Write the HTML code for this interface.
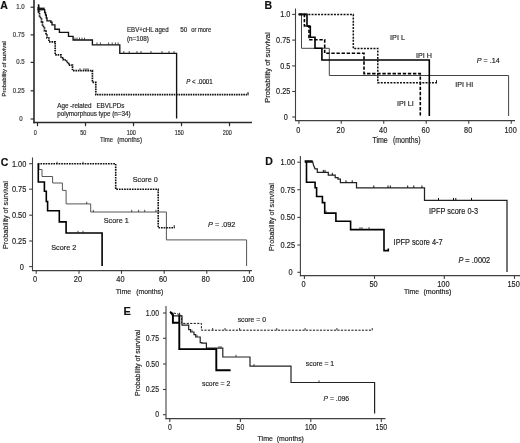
<!DOCTYPE html>
<html><head><meta charset="utf-8"><style>
html,body{margin:0;padding:0;background:#fff;}
svg{display:block;will-change:transform;font-family:"Liberation Sans", sans-serif;}
</style></head><body>
<svg width="520" height="443" viewBox="0 0 520 443">
<rect width="520" height="443" fill="#fff"/>
<text transform="translate(0.3,8.7)" font-size="10.5" text-anchor="start" fill="#111" font-weight="bold" stroke="#111" stroke-width="0.18">A</text>
<line x1="34" y1="0" x2="34" y2="123.2" stroke="#2a2a2a" stroke-width="1.6" />
<line x1="33.2" y1="122.5" x2="252" y2="122.5" stroke="#2a2a2a" stroke-width="1.5" />
<line x1="30.6" y1="7.2" x2="34" y2="7.2" stroke="#2a2a2a" stroke-width="1.2" />
<text transform="translate(24.6,9.2) scale(0.82,1)" font-size="7.4" text-anchor="end" fill="#333" font-weight="normal" stroke="#333" stroke-width="0.18">1.0</text>
<line x1="30.6" y1="34.9" x2="34" y2="34.9" stroke="#2a2a2a" stroke-width="1.2" />
<text transform="translate(24.6,36.9) scale(0.82,1)" font-size="7.4" text-anchor="end" fill="#333" font-weight="normal" stroke="#333" stroke-width="0.18">0.75</text>
<line x1="30.6" y1="62.4" x2="34" y2="62.4" stroke="#2a2a2a" stroke-width="1.2" />
<text transform="translate(24.6,64.4) scale(0.82,1)" font-size="7.4" text-anchor="end" fill="#333" font-weight="normal" stroke="#333" stroke-width="0.18">0.5</text>
<line x1="30.6" y1="90.8" x2="34" y2="90.8" stroke="#2a2a2a" stroke-width="1.2" />
<text transform="translate(24.6,92.8) scale(0.82,1)" font-size="7.4" text-anchor="end" fill="#333" font-weight="normal" stroke="#333" stroke-width="0.18">0.25</text>
<line x1="30.6" y1="119" x2="34" y2="119" stroke="#2a2a2a" stroke-width="1.2" />
<text transform="translate(22.6,121.0) scale(0.82,1)" font-size="7.4" text-anchor="end" fill="#333" font-weight="normal" stroke="#333" stroke-width="0.18">0</text>
<line x1="37.5" y1="122.5" x2="37.5" y2="126.2" stroke="#2a2a2a" stroke-width="1.2" />
<text transform="translate(35.3,134.8) scale(0.86,1)" font-size="6.3" text-anchor="middle" fill="#333" font-weight="normal" stroke="#333" stroke-width="0.18">0</text>
<line x1="85.5" y1="122.5" x2="85.5" y2="126.2" stroke="#2a2a2a" stroke-width="1.2" />
<text transform="translate(83.3,134.8) scale(0.86,1)" font-size="6.3" text-anchor="middle" fill="#333" font-weight="normal" stroke="#333" stroke-width="0.18">50</text>
<line x1="133.5" y1="122.5" x2="133.5" y2="126.2" stroke="#2a2a2a" stroke-width="1.2" />
<text transform="translate(131.3,134.8) scale(0.86,1)" font-size="6.3" text-anchor="middle" fill="#333" font-weight="normal" stroke="#333" stroke-width="0.18">100</text>
<line x1="181.5" y1="122.5" x2="181.5" y2="126.2" stroke="#2a2a2a" stroke-width="1.2" />
<text transform="translate(179.3,134.8) scale(0.86,1)" font-size="6.3" text-anchor="middle" fill="#333" font-weight="normal" stroke="#333" stroke-width="0.18">150</text>
<line x1="229.5" y1="122.5" x2="229.5" y2="126.2" stroke="#2a2a2a" stroke-width="1.2" />
<text transform="translate(227.3,134.8) scale(0.86,1)" font-size="6.3" text-anchor="middle" fill="#333" font-weight="normal" stroke="#333" stroke-width="0.18">200</text>
<text transform="translate(100,141.6) scale(0.95,1)" font-size="6.3" text-anchor="start" fill="#333" font-weight="normal" stroke="#333" stroke-width="0.18">Time</text>
<text transform="translate(117.2,141.6)" font-size="6.3" text-anchor="start" fill="#333" font-weight="normal" stroke="#333" stroke-width="0.18">(months)</text>
<text transform="translate(5.6,68.8) rotate(-90)" font-size="5.85" text-anchor="middle" fill="#333" font-weight="normal" stroke="#333" stroke-width="0.22">Probability of survival</text>
<path d="M38,7.2 L38.2,7.2 L38.2,9.6 L44.7,9.6 L44.7,12.5 L45.5,12.5 L45.5,15 L46.3,15 L46.3,18 L47,18 L47,20.9 L50.9,20.9 L50.9,22.2 L52,22.2 L52,24.8 L54.9,24.8 L54.9,29.2 L59.4,29.2 L59.4,32.4 L68.5,32.4 L68.5,36.4 L73.1,36.4 L73.1,40.0 L92.4,40.0 L92.4,44.8 L119.8,44.8 L119.8,53.4 L176.6,53.4 L176.6,118.5" fill="none" stroke="#111" stroke-width="1.35" stroke-linejoin="miter" stroke-linecap="butt" />
<rect x="38.2" y="7.6" width="6.5" height="2.6" fill="#1a1a1a"/>
<line x1="38.6" y1="4.3" x2="38.6" y2="12.5" stroke="#111" stroke-width="1.6" />
<line x1="75" y1="40.0" x2="75" y2="37.6" stroke="#222" stroke-width="0.8" />
<line x1="77" y1="40.0" x2="77" y2="37.6" stroke="#222" stroke-width="0.8" />
<line x1="79.5" y1="40.0" x2="79.5" y2="37.6" stroke="#222" stroke-width="0.8" />
<line x1="82" y1="40.0" x2="82" y2="37.6" stroke="#222" stroke-width="0.8" />
<line x1="84.5" y1="40.0" x2="84.5" y2="37.6" stroke="#222" stroke-width="0.8" />
<line x1="97" y1="44.8" x2="97" y2="42.4" stroke="#222" stroke-width="0.8" />
<line x1="100.4" y1="44.8" x2="100.4" y2="42.4" stroke="#222" stroke-width="0.8" />
<line x1="108.6" y1="44.8" x2="108.6" y2="42.4" stroke="#222" stroke-width="0.8" />
<line x1="112.2" y1="44.8" x2="112.2" y2="42.4" stroke="#222" stroke-width="0.8" />
<line x1="115.4" y1="44.8" x2="115.4" y2="42.4" stroke="#222" stroke-width="0.8" />
<line x1="118.1" y1="44.8" x2="118.1" y2="42.4" stroke="#222" stroke-width="0.8" />
<line x1="123.8" y1="53.4" x2="123.8" y2="51.0" stroke="#222" stroke-width="0.8" />
<line x1="129.2" y1="53.4" x2="129.2" y2="51.0" stroke="#222" stroke-width="0.8" />
<line x1="137" y1="53.4" x2="137" y2="51.0" stroke="#222" stroke-width="0.8" />
<line x1="141" y1="53.4" x2="141" y2="51.0" stroke="#222" stroke-width="0.8" />
<line x1="151" y1="53.4" x2="151" y2="51.0" stroke="#222" stroke-width="0.8" />
<line x1="162" y1="53.4" x2="162" y2="51.0" stroke="#222" stroke-width="0.8" />
<line x1="169" y1="53.4" x2="169" y2="51.0" stroke="#222" stroke-width="0.8" />
<line x1="174" y1="53.4" x2="174" y2="51.0" stroke="#222" stroke-width="0.8" />
<path d="M38,7.2 L38.5,7.2 L38.5,12 L39.5,12 L39.5,16 L40.5,16 L40.5,19 L41.5,19 L41.5,22 L42.5,22 L42.5,25 L43.5,25 L43.5,28 L44.5,28 L44.5,31 L46,31 L46,35 L47,35 L47,38 L48.9,38 L48.9,41.8 L55.2,41.8 L55.2,42.6 L55.2,42.6 L55.2,54.8 L61,54.8 L61,54.8 L61,54.8 L61,57.8 L63.4,57.8 L63.4,57.8 L63.4,57.8 L63.4,60 L66.6,60 L66.6,60 L66.6,60 L66.6,62.5 L68.75,62.5 L68.75,62.5 L68.75,62.5 L68.75,65.2 L72.5,65.2 L72.5,65.2 L72.5,65.2 L72.5,70.6 L92.4,70.6 L92.4,70.6 L92.4,70.6 L92.4,82.3 L95.8,82.3 L95.8,82.3 L95.8,82.3 L95.8,94.7 L248.5,94.7 L248.5,94.7" fill="none" stroke="#111" stroke-width="1.7" stroke-dasharray="1.6 0.8" stroke-linejoin="miter" stroke-linecap="butt" />
<line x1="80" y1="70.6" x2="80" y2="68.19999999999999" stroke="#222" stroke-width="0.8" />
<line x1="84" y1="70.6" x2="84" y2="68.19999999999999" stroke="#222" stroke-width="0.8" />
<line x1="86" y1="70.6" x2="86" y2="68.19999999999999" stroke="#222" stroke-width="0.8" />
<line x1="88" y1="70.6" x2="88" y2="68.19999999999999" stroke="#222" stroke-width="0.8" />
<line x1="248.0" y1="94.7" x2="248.0" y2="92.10000000000001" stroke="#111" stroke-width="1.0" />
<text transform="translate(127,31.6) scale(0.97,1)" font-size="6.3" text-anchor="start" fill="#2a2a2a" font-weight="normal" stroke="#2a2a2a" stroke-width="0.18">EBV+cHL aged</text>
<text transform="translate(180.2,31.6)" font-size="6.3" text-anchor="start" fill="#2a2a2a" font-weight="normal" stroke="#2a2a2a" stroke-width="0.18">50</text>
<text transform="translate(191.2,31.6) scale(0.92,1)" font-size="6.3" text-anchor="start" fill="#2a2a2a" font-weight="normal" stroke="#2a2a2a" stroke-width="0.18">or more</text>
<text transform="translate(127,40.6)" font-size="6.3" text-anchor="start" fill="#2a2a2a" font-weight="normal" stroke="#2a2a2a" stroke-width="0.18">(n=108)</text>
<text transform="translate(186.2,83.8) scale(0.89,1)" font-size="6.9" text-anchor="start" fill="#1a1a1a" font-weight="normal" stroke="#1a1a1a" stroke-width="0.18"><tspan font-style="italic">P</tspan> &lt; .0001</text>
<text transform="translate(57.3,107.6)" font-size="6.3" text-anchor="start" fill="#2a2a2a" font-weight="normal" stroke="#2a2a2a" stroke-width="0.18">Age -related</text>
<text transform="translate(96.4,107.6)" font-size="6.3" text-anchor="start" fill="#2a2a2a" font-weight="normal" stroke="#2a2a2a" stroke-width="0.18">EBVLPDs</text>
<text transform="translate(57.3,116.4)" font-size="6.3" text-anchor="start" fill="#2a2a2a" font-weight="normal" stroke="#2a2a2a" stroke-width="0.18">polymorphous type (n=34)</text>
<text transform="translate(264.4,9.0)" font-size="10.5" text-anchor="start" fill="#111" font-weight="bold" stroke="#111" stroke-width="0.18">B</text>
<line x1="295.5" y1="8.5" x2="295.5" y2="121.0" stroke="#404040" stroke-width="1.1" />
<line x1="295.0" y1="120.6" x2="515" y2="120.6" stroke="#404040" stroke-width="1.2" />
<line x1="292.2" y1="14.4" x2="295.5" y2="14.4" stroke="#404040" stroke-width="1.1" />
<text transform="translate(290.3,17.3) scale(0.84,1)" font-size="8.7" text-anchor="end" fill="#1e1e1e" font-weight="normal" stroke="#1e1e1e" stroke-width="0.18">1.0</text>
<line x1="292.2" y1="40.1" x2="295.5" y2="40.1" stroke="#404040" stroke-width="1.1" />
<text transform="translate(290.3,43.0) scale(0.84,1)" font-size="8.7" text-anchor="end" fill="#1e1e1e" font-weight="normal" stroke="#1e1e1e" stroke-width="0.18">0.75</text>
<line x1="292.2" y1="65.9" x2="295.5" y2="65.9" stroke="#404040" stroke-width="1.1" />
<text transform="translate(290.3,68.80000000000001) scale(0.84,1)" font-size="8.7" text-anchor="end" fill="#1e1e1e" font-weight="normal" stroke="#1e1e1e" stroke-width="0.18">0.5</text>
<line x1="292.2" y1="91.5" x2="295.5" y2="91.5" stroke="#404040" stroke-width="1.1" />
<text transform="translate(290.3,94.4) scale(0.84,1)" font-size="8.7" text-anchor="end" fill="#1e1e1e" font-weight="normal" stroke="#1e1e1e" stroke-width="0.18">0.25</text>
<line x1="292.2" y1="117.0" x2="295.5" y2="117.0" stroke="#404040" stroke-width="1.1" />
<text transform="translate(287.9,119.9) scale(0.84,1)" font-size="8.7" text-anchor="end" fill="#1e1e1e" font-weight="normal" stroke="#1e1e1e" stroke-width="0.18">0</text>
<line x1="298.9" y1="120.6" x2="298.9" y2="123.8" stroke="#404040" stroke-width="1.1" />
<text transform="translate(298.29999999999995,133.0) scale(0.84,1)" font-size="8.7" text-anchor="middle" fill="#1e1e1e" font-weight="normal" stroke="#1e1e1e" stroke-width="0.18">0</text>
<line x1="341.25" y1="120.6" x2="341.25" y2="123.8" stroke="#404040" stroke-width="1.1" />
<text transform="translate(340.65,133.0) scale(0.84,1)" font-size="8.7" text-anchor="middle" fill="#1e1e1e" font-weight="normal" stroke="#1e1e1e" stroke-width="0.18">20</text>
<line x1="383.75" y1="120.6" x2="383.75" y2="123.8" stroke="#404040" stroke-width="1.1" />
<text transform="translate(383.15,133.0) scale(0.84,1)" font-size="8.7" text-anchor="middle" fill="#1e1e1e" font-weight="normal" stroke="#1e1e1e" stroke-width="0.18">40</text>
<line x1="426.25" y1="120.6" x2="426.25" y2="123.8" stroke="#404040" stroke-width="1.1" />
<text transform="translate(425.65,133.0) scale(0.84,1)" font-size="8.7" text-anchor="middle" fill="#1e1e1e" font-weight="normal" stroke="#1e1e1e" stroke-width="0.18">60</text>
<line x1="468.75" y1="120.6" x2="468.75" y2="123.8" stroke="#404040" stroke-width="1.1" />
<text transform="translate(468.15,133.0) scale(0.84,1)" font-size="8.7" text-anchor="middle" fill="#1e1e1e" font-weight="normal" stroke="#1e1e1e" stroke-width="0.18">80</text>
<line x1="511.25" y1="120.6" x2="511.25" y2="123.8" stroke="#404040" stroke-width="1.1" />
<text transform="translate(510.65,133.0) scale(0.84,1)" font-size="8.7" text-anchor="middle" fill="#1e1e1e" font-weight="normal" stroke="#1e1e1e" stroke-width="0.18">100</text>
<text transform="translate(372.4,143) scale(0.86,1)" font-size="8.2" text-anchor="start" fill="#1e1e1e" font-weight="normal" stroke="#1e1e1e" stroke-width="0.18">Time</text>
<text transform="translate(393,143) scale(0.82,1)" font-size="8.5" text-anchor="start" fill="#1e1e1e" font-weight="normal" stroke="#1e1e1e" stroke-width="0.18">(months)</text>
<text transform="translate(270.2,67.5) rotate(-90)" font-size="7.45" text-anchor="middle" fill="#1e1e1e" font-weight="normal" stroke="#1e1e1e" stroke-width="0.18">Probability of survival</text>
<path d="M298.75,14.4 L301.5,14.4 L301.5,48.3 L329.3,48.3 L329.3,75.5 L508.6,75.5 L508.6,116" fill="none" stroke="#444" stroke-width="1.0" stroke-linejoin="miter" stroke-linecap="butt" />
<path d="M298.75,14.4 L307,14.4 L307,26.2 L310.3,26.2 L310.3,37.2 L315,37.2 L315,48.2 L321.9,48.2 L321.9,60 L429.3,60 L429.3,116" fill="none" stroke="#000" stroke-width="1.6" stroke-linejoin="miter" stroke-linecap="butt" />
<path d="M298.75,14.4 L304.4,14.4 L304.4,26 L309,26 L309,39.7 L324.7,39.7 L324.7,53.2 L364.0,53.2 L364.0,73.6 L420.3,73.6 L420.3,116" fill="none" stroke="#000" stroke-width="1.6" stroke-dasharray="3.4 1.7" stroke-linejoin="miter" stroke-linecap="butt" />
<path d="M298.75,14.4 L353.3,14.4 L353.3,48.5 L377.8,48.5 L377.8,82.8 L437,82.8" fill="none" stroke="#111" stroke-width="1.5" stroke-dasharray="2 1.2" stroke-linejoin="miter" stroke-linecap="butt" />
<line x1="436.5" y1="82.8" x2="436.5" y2="80.2" stroke="#111" stroke-width="1.0" />
<text transform="translate(390.1,40.2) scale(0.9,1)" font-size="8.0" text-anchor="start" fill="#1e1e1e" font-weight="normal" stroke="#1e1e1e" stroke-width="0.18">IPI L</text>
<text transform="translate(415.9,58.1) scale(0.9,1)" font-size="8.0" text-anchor="start" fill="#1e1e1e" font-weight="normal" stroke="#1e1e1e" stroke-width="0.18">IPI H</text>
<text transform="translate(455.2,86.7) scale(0.9,1)" font-size="8.0" text-anchor="start" fill="#1e1e1e" font-weight="normal" stroke="#1e1e1e" stroke-width="0.18">IPI HI</text>
<text transform="translate(397,105.5) scale(0.9,1)" font-size="8.0" text-anchor="start" fill="#1e1e1e" font-weight="normal" stroke="#1e1e1e" stroke-width="0.18">IPI LI</text>
<text transform="translate(476.7,63.2) scale(0.9,1)" font-size="8.0" text-anchor="start" fill="#1e1e1e" font-weight="normal" stroke="#1e1e1e" stroke-width="0.18"><tspan font-style="italic">P</tspan> = .14</text>
<text transform="translate(0.8,165.5)" font-size="10.5" text-anchor="start" fill="#111" font-weight="bold" stroke="#111" stroke-width="0.18">C</text>
<line x1="32.5" y1="157.5" x2="32.5" y2="271.0" stroke="#404040" stroke-width="1.1" />
<line x1="32.0" y1="270.6" x2="252" y2="270.6" stroke="#404040" stroke-width="1.2" />
<line x1="29.2" y1="163.7" x2="32.5" y2="163.7" stroke="#404040" stroke-width="1.1" />
<text transform="translate(26.3,166.7) scale(0.85,1)" font-size="8.7" text-anchor="end" fill="#1e1e1e" font-weight="normal" stroke="#1e1e1e" stroke-width="0.18">1.00</text>
<line x1="29.2" y1="189.2" x2="32.5" y2="189.2" stroke="#404040" stroke-width="1.1" />
<text transform="translate(26.3,192.2) scale(0.85,1)" font-size="8.7" text-anchor="end" fill="#1e1e1e" font-weight="normal" stroke="#1e1e1e" stroke-width="0.18">0.75</text>
<line x1="29.2" y1="215.2" x2="32.5" y2="215.2" stroke="#404040" stroke-width="1.1" />
<text transform="translate(26.3,218.2) scale(0.85,1)" font-size="8.7" text-anchor="end" fill="#1e1e1e" font-weight="normal" stroke="#1e1e1e" stroke-width="0.18">0.50</text>
<line x1="29.2" y1="241.0" x2="32.5" y2="241.0" stroke="#404040" stroke-width="1.1" />
<text transform="translate(26.3,244.0) scale(0.85,1)" font-size="8.7" text-anchor="end" fill="#1e1e1e" font-weight="normal" stroke="#1e1e1e" stroke-width="0.18">0.25</text>
<line x1="29.2" y1="266.6" x2="32.5" y2="266.6" stroke="#404040" stroke-width="1.1" />
<text transform="translate(23.9,269.6) scale(0.85,1)" font-size="8.7" text-anchor="end" fill="#1e1e1e" font-weight="normal" stroke="#1e1e1e" stroke-width="0.18">0</text>
<line x1="36.25" y1="270.6" x2="36.25" y2="273.8" stroke="#404040" stroke-width="1.1" />
<text transform="translate(35.15,282.4) scale(0.85,1)" font-size="8.7" text-anchor="middle" fill="#1e1e1e" font-weight="normal" stroke="#1e1e1e" stroke-width="0.18">0</text>
<line x1="79" y1="270.6" x2="79" y2="273.8" stroke="#404040" stroke-width="1.1" />
<text transform="translate(77.9,282.4) scale(0.85,1)" font-size="8.7" text-anchor="middle" fill="#1e1e1e" font-weight="normal" stroke="#1e1e1e" stroke-width="0.18">20</text>
<line x1="121.5" y1="270.6" x2="121.5" y2="273.8" stroke="#404040" stroke-width="1.1" />
<text transform="translate(120.4,282.4) scale(0.85,1)" font-size="8.7" text-anchor="middle" fill="#1e1e1e" font-weight="normal" stroke="#1e1e1e" stroke-width="0.18">40</text>
<line x1="164.2" y1="270.6" x2="164.2" y2="273.8" stroke="#404040" stroke-width="1.1" />
<text transform="translate(163.1,282.4) scale(0.85,1)" font-size="8.7" text-anchor="middle" fill="#1e1e1e" font-weight="normal" stroke="#1e1e1e" stroke-width="0.18">60</text>
<line x1="206.8" y1="270.6" x2="206.8" y2="273.8" stroke="#404040" stroke-width="1.1" />
<text transform="translate(205.70000000000002,282.4) scale(0.85,1)" font-size="8.7" text-anchor="middle" fill="#1e1e1e" font-weight="normal" stroke="#1e1e1e" stroke-width="0.18">80</text>
<line x1="249.4" y1="270.6" x2="249.4" y2="273.8" stroke="#404040" stroke-width="1.1" />
<text transform="translate(248.3,282.4) scale(0.85,1)" font-size="8.7" text-anchor="middle" fill="#1e1e1e" font-weight="normal" stroke="#1e1e1e" stroke-width="0.18">100</text>
<text transform="translate(115.8,293.8) scale(0.91,1)" font-size="7.8" text-anchor="start" fill="#1e1e1e" font-weight="normal" stroke="#1e1e1e" stroke-width="0.18">Time</text>
<text transform="translate(136.2,293.8) scale(0.88,1)" font-size="7.8" text-anchor="start" fill="#1e1e1e" font-weight="normal" stroke="#1e1e1e" stroke-width="0.18">(months)</text>
<text transform="translate(7.8,215) rotate(-90)" font-size="7.2" text-anchor="middle" fill="#1e1e1e" font-weight="normal" stroke="#1e1e1e" stroke-width="0.18">Probability of survival</text>
<path d="M37.8,163.9 L38.9,163.9 L38.9,169.5 L42,169.5 L42,176.5 L52.6,176.5 L52.6,183 L62.4,183 L62.4,190.4 L66.1,190.4 L66.1,203.9 L90.7,203.9 L90.7,212 L166.4,212 L166.4,239.9 L246.6,239.9 L246.6,266" fill="none" stroke="#555" stroke-width="1.0" stroke-linejoin="miter" stroke-linecap="butt" />
<path d="M37.8,163.9 L38.3,163.9 L38.3,182 L44.4,182 L44.4,191.3 L46.3,191.3 L46.3,201.5 L47.6,201.5 L47.6,210.8 L59.3,210.8 L59.3,221.9 L66.1,221.9 L66.1,233 L102.1,233 L102.1,266" fill="none" stroke="#000" stroke-width="1.6" stroke-linejoin="miter" stroke-linecap="butt" />
<path d="M37.8,163.8 L115.7,163.8 L115.7,189.3 L158.2,189.3 L158.2,227.8 L174.6,227.8" fill="none" stroke="#111" stroke-width="1.6" stroke-dasharray="1.7 0.9" stroke-linejoin="miter" stroke-linecap="butt" />
<line x1="57" y1="163.9" x2="57" y2="161.70000000000002" stroke="#222" stroke-width="0.8" />
<line x1="83" y1="163.9" x2="83" y2="161.70000000000002" stroke="#222" stroke-width="0.8" />
<line x1="86.7" y1="203.9" x2="86.7" y2="201.70000000000002" stroke="#222" stroke-width="0.8" />
<line x1="93.3" y1="212" x2="93.3" y2="209.8" stroke="#222" stroke-width="0.8" />
<line x1="131.7" y1="212" x2="131.7" y2="209.8" stroke="#222" stroke-width="0.8" />
<line x1="138.6" y1="212" x2="138.6" y2="209.8" stroke="#222" stroke-width="0.8" />
<line x1="144.7" y1="212" x2="144.7" y2="209.8" stroke="#222" stroke-width="0.8" />
<line x1="155.9" y1="212" x2="155.9" y2="209.8" stroke="#222" stroke-width="0.8" />
<line x1="78" y1="233" x2="78" y2="230.8" stroke="#222" stroke-width="0.8" />
<line x1="83" y1="233" x2="83" y2="230.8" stroke="#222" stroke-width="0.8" />
<line x1="174.2" y1="227.8" x2="174.2" y2="225.20000000000002" stroke="#111" stroke-width="1.0" />
<text transform="translate(132.7,182.2) scale(0.9,1)" font-size="8.1" text-anchor="start" fill="#1e1e1e" font-weight="normal" stroke="#1e1e1e" stroke-width="0.18">Score 0</text>
<text transform="translate(103.7,223.3) scale(0.9,1)" font-size="8.1" text-anchor="start" fill="#1e1e1e" font-weight="normal" stroke="#1e1e1e" stroke-width="0.18">Score 1</text>
<text transform="translate(51.2,249.8) scale(0.9,1)" font-size="8.1" text-anchor="start" fill="#1e1e1e" font-weight="normal" stroke="#1e1e1e" stroke-width="0.18">Score 2</text>
<text transform="translate(208,227.2) scale(0.9,1)" font-size="8.1" text-anchor="start" fill="#1e1e1e" font-weight="normal" stroke="#1e1e1e" stroke-width="0.18"><tspan font-style="italic">P</tspan> = .092</text>
<text transform="translate(265.2,164.6)" font-size="10.5" text-anchor="start" fill="#111" font-weight="bold" stroke="#111" stroke-width="0.18">D</text>
<line x1="300.4" y1="156" x2="300.4" y2="276.2" stroke="#404040" stroke-width="1.1" />
<line x1="299.9" y1="275.7" x2="520" y2="275.7" stroke="#404040" stroke-width="1.2" />
<line x1="297.4" y1="162.2" x2="300.4" y2="162.2" stroke="#404040" stroke-width="1.1" />
<text transform="translate(295.0,165.1) scale(0.85,1)" font-size="8.7" text-anchor="end" fill="#1e1e1e" font-weight="normal" stroke="#1e1e1e" stroke-width="0.18">1.00</text>
<line x1="297.4" y1="189.7" x2="300.4" y2="189.7" stroke="#404040" stroke-width="1.1" />
<text transform="translate(295.0,192.6) scale(0.85,1)" font-size="8.7" text-anchor="end" fill="#1e1e1e" font-weight="normal" stroke="#1e1e1e" stroke-width="0.18">0.75</text>
<line x1="297.4" y1="217.4" x2="300.4" y2="217.4" stroke="#404040" stroke-width="1.1" />
<text transform="translate(295.0,220.3) scale(0.85,1)" font-size="8.7" text-anchor="end" fill="#1e1e1e" font-weight="normal" stroke="#1e1e1e" stroke-width="0.18">0.50</text>
<line x1="297.4" y1="245" x2="300.4" y2="245" stroke="#404040" stroke-width="1.1" />
<text transform="translate(295.0,247.9) scale(0.85,1)" font-size="8.7" text-anchor="end" fill="#1e1e1e" font-weight="normal" stroke="#1e1e1e" stroke-width="0.18">0.25</text>
<line x1="297.4" y1="272.3" x2="300.4" y2="272.3" stroke="#404040" stroke-width="1.1" />
<text transform="translate(292.6,275.2) scale(0.85,1)" font-size="8.7" text-anchor="end" fill="#1e1e1e" font-weight="normal" stroke="#1e1e1e" stroke-width="0.18">0</text>
<line x1="304.4" y1="275.7" x2="304.4" y2="278.9" stroke="#404040" stroke-width="1.1" />
<text transform="translate(303.5,287.0) scale(0.85,1)" font-size="8.7" text-anchor="middle" fill="#1e1e1e" font-weight="normal" stroke="#1e1e1e" stroke-width="0.18">0</text>
<line x1="374.5" y1="275.7" x2="374.5" y2="278.9" stroke="#404040" stroke-width="1.1" />
<text transform="translate(373.6,287.0) scale(0.85,1)" font-size="8.7" text-anchor="middle" fill="#1e1e1e" font-weight="normal" stroke="#1e1e1e" stroke-width="0.18">50</text>
<line x1="444.3" y1="275.7" x2="444.3" y2="278.9" stroke="#404040" stroke-width="1.1" />
<text transform="translate(443.40000000000003,287.0) scale(0.85,1)" font-size="8.7" text-anchor="middle" fill="#1e1e1e" font-weight="normal" stroke="#1e1e1e" stroke-width="0.18">100</text>
<line x1="514.5" y1="275.7" x2="514.5" y2="278.9" stroke="#404040" stroke-width="1.1" />
<text transform="translate(513.6,287.0) scale(0.85,1)" font-size="8.7" text-anchor="middle" fill="#1e1e1e" font-weight="normal" stroke="#1e1e1e" stroke-width="0.18">150</text>
<text transform="translate(404,293.6) scale(0.86,1)" font-size="8.0" text-anchor="start" fill="#1e1e1e" font-weight="normal" stroke="#1e1e1e" stroke-width="0.18">Time</text>
<text transform="translate(423.4,293.8) scale(0.99,1)" font-size="7.2" text-anchor="start" fill="#1e1e1e" font-weight="normal" stroke="#1e1e1e" stroke-width="0.18">(months)</text>
<text transform="translate(274,217) rotate(-90)" font-size="7.2" text-anchor="middle" fill="#1e1e1e" font-weight="normal" stroke="#1e1e1e" stroke-width="0.18">Probability of survival</text>
<path d="M305.2,161.8 L312.7,161.8 L313.5,165 L315,168.8 L317.3,168.8 L317.3,172.3 L317.3,172.3 L328.3,172.3 L328.3,175.2 L335.2,175.2 L335.2,177.5 L338,177.5 L338,179.2 L340.4,179.2 L340.4,182.7 L356.5,182.7 L356.5,187.9 L424.5,187.9 L424.5,200.3 L507,200.3 L507,272.1" fill="none" stroke="#222" stroke-width="1.25" stroke-linejoin="miter" stroke-linecap="butt" />
<line x1="323.3" y1="172.3" x2="323.3" y2="169.9" stroke="#111" stroke-width="1.0" />
<line x1="325" y1="172.3" x2="325" y2="169.9" stroke="#111" stroke-width="1.0" />
<line x1="332.3" y1="175.2" x2="332.3" y2="172.79999999999998" stroke="#111" stroke-width="1.0" />
<line x1="346" y1="182.7" x2="346" y2="180.29999999999998" stroke="#111" stroke-width="1.0" />
<line x1="352.2" y1="182.7" x2="352.2" y2="180.29999999999998" stroke="#111" stroke-width="1.0" />
<line x1="373.8" y1="187.9" x2="373.8" y2="185.5" stroke="#111" stroke-width="1.0" />
<line x1="388" y1="187.9" x2="388" y2="185.5" stroke="#111" stroke-width="1.0" />
<line x1="390.3" y1="187.9" x2="390.3" y2="185.5" stroke="#111" stroke-width="1.0" />
<line x1="407.7" y1="187.9" x2="407.7" y2="185.5" stroke="#111" stroke-width="1.0" />
<line x1="413.8" y1="187.9" x2="413.8" y2="185.5" stroke="#111" stroke-width="1.0" />
<line x1="421.9" y1="187.9" x2="421.9" y2="185.5" stroke="#111" stroke-width="1.0" />
<line x1="438.5" y1="200.3" x2="438.5" y2="197.9" stroke="#111" stroke-width="1.0" />
<line x1="453.5" y1="200.3" x2="453.5" y2="197.9" stroke="#111" stroke-width="1.0" />
<line x1="455.8" y1="200.3" x2="455.8" y2="197.9" stroke="#111" stroke-width="1.0" />
<line x1="471.5" y1="200.3" x2="471.5" y2="197.9" stroke="#111" stroke-width="1.0" />
<rect x="304.6" y="160.2" width="8.1" height="2.4" fill="#111"/>
<path d="M305.2,162.2 L306.5,162.2 L306.5,182.3 L315.1,182.3 L315.1,187.8 L316.6,187.8 L316.6,196.5 L322.4,196.5 L322.4,202.6 L324.7,202.6 L324.7,213.1 L335.9,213.1 L335.9,221.2 L350.6,221.2 L350.6,229.6 L384.0,229.6 L384.0,250.6 L388.3,250.6 L388.3,248.4" fill="none" stroke="#000" stroke-width="1.6" stroke-linejoin="miter" stroke-linecap="butt" />
<line x1="326" y1="213.1" x2="326" y2="210.7" stroke="#222" stroke-width="0.9" />
<line x1="360" y1="229.6" x2="360" y2="227.2" stroke="#222" stroke-width="0.9" />
<line x1="362" y1="229.6" x2="362" y2="227.2" stroke="#222" stroke-width="0.9" />
<line x1="369" y1="229.6" x2="369" y2="227.2" stroke="#222" stroke-width="0.9" />
<text transform="translate(429,214.3) scale(0.9,1)" font-size="8.2" text-anchor="start" fill="#1e1e1e" font-weight="normal" stroke="#1e1e1e" stroke-width="0.18">IPFP score 0-3</text>
<text transform="translate(393.6,245.1) scale(0.9,1)" font-size="8.2" text-anchor="start" fill="#1e1e1e" font-weight="normal" stroke="#1e1e1e" stroke-width="0.18">IPFP score 4-7</text>
<text transform="translate(458.4,263.1) scale(0.9,1)" font-size="8.2" text-anchor="start" fill="#1e1e1e" font-weight="normal" stroke="#1e1e1e" stroke-width="0.18"><tspan font-style="italic">P</tspan> = .0002</text>
<text transform="translate(123.6,314.9)" font-size="11" text-anchor="start" fill="#111" font-weight="bold" stroke="#111" stroke-width="0.18">E</text>
<line x1="166.0" y1="306" x2="166.0" y2="419.2" stroke="#404040" stroke-width="1.1" />
<line x1="165.5" y1="418.7" x2="385.5" y2="418.7" stroke="#404040" stroke-width="1.2" />
<line x1="163.0" y1="313" x2="166.0" y2="313" stroke="#404040" stroke-width="1.1" />
<text transform="translate(159,315.5) scale(0.8,1)" font-size="8.6" text-anchor="end" fill="#1e1e1e" font-weight="normal" stroke="#1e1e1e" stroke-width="0.18">1.00</text>
<line x1="163.0" y1="338.3" x2="166.0" y2="338.3" stroke="#404040" stroke-width="1.1" />
<text transform="translate(159,340.8) scale(0.8,1)" font-size="8.6" text-anchor="end" fill="#1e1e1e" font-weight="normal" stroke="#1e1e1e" stroke-width="0.18">0.75</text>
<line x1="163.0" y1="364" x2="166.0" y2="364" stroke="#404040" stroke-width="1.1" />
<text transform="translate(159,366.5) scale(0.8,1)" font-size="8.6" text-anchor="end" fill="#1e1e1e" font-weight="normal" stroke="#1e1e1e" stroke-width="0.18">0.50</text>
<line x1="163.0" y1="389.5" x2="166.0" y2="389.5" stroke="#404040" stroke-width="1.1" />
<text transform="translate(159,392.0) scale(0.8,1)" font-size="8.6" text-anchor="end" fill="#1e1e1e" font-weight="normal" stroke="#1e1e1e" stroke-width="0.18">0.25</text>
<line x1="163.0" y1="414.7" x2="166.0" y2="414.7" stroke="#404040" stroke-width="1.1" />
<text transform="translate(159,417.2) scale(0.8,1)" font-size="8.6" text-anchor="end" fill="#1e1e1e" font-weight="normal" stroke="#1e1e1e" stroke-width="0.18">0</text>
<line x1="169.8" y1="418.7" x2="169.8" y2="421.9" stroke="#404040" stroke-width="1.1" />
<text transform="translate(169.8,430) scale(0.8,1)" font-size="8.6" text-anchor="middle" fill="#1e1e1e" font-weight="normal" stroke="#1e1e1e" stroke-width="0.18">0</text>
<line x1="240.4" y1="418.7" x2="240.4" y2="421.9" stroke="#404040" stroke-width="1.1" />
<text transform="translate(240.4,430) scale(0.8,1)" font-size="8.6" text-anchor="middle" fill="#1e1e1e" font-weight="normal" stroke="#1e1e1e" stroke-width="0.18">50</text>
<line x1="310.8" y1="418.7" x2="310.8" y2="421.9" stroke="#404040" stroke-width="1.1" />
<text transform="translate(310.8,430) scale(0.8,1)" font-size="8.6" text-anchor="middle" fill="#1e1e1e" font-weight="normal" stroke="#1e1e1e" stroke-width="0.18">100</text>
<line x1="381.3" y1="418.7" x2="381.3" y2="421.9" stroke="#404040" stroke-width="1.1" />
<text transform="translate(381.3,430) scale(0.8,1)" font-size="8.6" text-anchor="middle" fill="#1e1e1e" font-weight="normal" stroke="#1e1e1e" stroke-width="0.18">150</text>
<text transform="translate(257.6,441) scale(0.97,1)" font-size="7.2" text-anchor="start" fill="#1e1e1e" font-weight="normal" stroke="#1e1e1e" stroke-width="0.18">Time</text>
<text transform="translate(276.8,441) scale(0.955,1)" font-size="7.2" text-anchor="start" fill="#1e1e1e" font-weight="normal" stroke="#1e1e1e" stroke-width="0.18">(months)</text>
<text transform="translate(139.8,363) rotate(-90)" font-size="7.0" text-anchor="middle" fill="#1e1e1e" font-weight="normal" stroke="#1e1e1e" stroke-width="0.18">Probability of survival</text>
<path d="M170.3,312.5 L176,313.5 L179.6,314.5 L181.6,316 L181.6,323.4 L201.4,323.4 L201.4,330.2 L372.6,330.2" fill="none" stroke="#111" stroke-width="1.0" stroke-dasharray="2.2 1.3" stroke-linejoin="miter" stroke-linecap="butt" />
<line x1="212.7" y1="330.2" x2="212.7" y2="328.0" stroke="#222" stroke-width="0.9" />
<line x1="225" y1="330.2" x2="225" y2="328.0" stroke="#222" stroke-width="0.9" />
<line x1="239.6" y1="330.2" x2="239.6" y2="328.0" stroke="#222" stroke-width="0.9" />
<line x1="276.8" y1="330.2" x2="276.8" y2="328.0" stroke="#222" stroke-width="0.9" />
<line x1="305.1" y1="330.2" x2="305.1" y2="328.0" stroke="#222" stroke-width="0.9" />
<line x1="336.9" y1="330.2" x2="336.9" y2="328.0" stroke="#222" stroke-width="0.9" />
<line x1="372.2" y1="330.2" x2="372.2" y2="328.0" stroke="#222" stroke-width="0.9" />
<path d="M170.3,312.5 L172.9,315.8 L181.8,315.8 L181.8,315.8 L182,315.8 L182,325.1 L188.7,325.1 L188.7,329.6 L190.6,329.6 L190.6,332 L194,332 L194,334.7 L195.7,334.7 L195.7,337 L200.2,337 L200.2,342.6 L201.9,342.6 L201.9,343.1 L206.4,343.1 L206.4,348.2 L222.8,348.2 L222.8,357.0 L250,357.0 L250,366.2 L291,366.2 L291,382.5 L374.6,382.5 L374.6,413.6" fill="none" stroke="#222" stroke-width="1.2" stroke-linejoin="miter" stroke-linecap="butt" />
<line x1="192" y1="332" x2="192" y2="329.8" stroke="#222" stroke-width="0.8" />
<line x1="197" y1="337" x2="197" y2="334.8" stroke="#222" stroke-width="0.8" />
<line x1="219" y1="348.2" x2="219" y2="346.0" stroke="#222" stroke-width="0.8" />
<line x1="221" y1="348.2" x2="221" y2="346.0" stroke="#222" stroke-width="0.8" />
<line x1="236" y1="357.0" x2="236" y2="354.8" stroke="#222" stroke-width="0.8" />
<line x1="254" y1="366.2" x2="254" y2="364.0" stroke="#222" stroke-width="0.8" />
<line x1="319" y1="382.5" x2="319" y2="380.3" stroke="#222" stroke-width="0.8" />
<path d="M170.0,311.8 L172.9,314.2 L172.9,322.8 L179.3,322.8" fill="none" stroke="#000" stroke-width="1.9" stroke-linejoin="miter" stroke-linecap="butt" />
<line x1="179.6" y1="312.8" x2="179.6" y2="316" stroke="#222" stroke-width="1.0" />
<path d="M179.3,315.5 L179.3,349.1 L216.3,349.1 L216.3,370.3 L230.6,370.3" fill="none" stroke="#000" stroke-width="1.9" stroke-linejoin="miter" stroke-linecap="butt" />
<text transform="translate(266,321.6) scale(0.89,1)" font-size="7.7" text-anchor="end" fill="#1e1e1e" font-weight="normal" stroke="#1e1e1e" stroke-width="0.18">score = 0</text>
<text transform="translate(305.8,366.2) scale(0.89,1)" font-size="7.7" text-anchor="start" fill="#1e1e1e" font-weight="normal" stroke="#1e1e1e" stroke-width="0.18">score = 1</text>
<text transform="translate(202,385.6) scale(0.89,1)" font-size="7.7" text-anchor="start" fill="#1e1e1e" font-weight="normal" stroke="#1e1e1e" stroke-width="0.18">score = 2</text>
<text transform="translate(323.5,400.8) scale(0.89,1)" font-size="7.7" text-anchor="start" fill="#1e1e1e" font-weight="normal" stroke="#1e1e1e" stroke-width="0.18"><tspan font-style="italic">P</tspan> = .096</text>
</svg>
</body></html>
